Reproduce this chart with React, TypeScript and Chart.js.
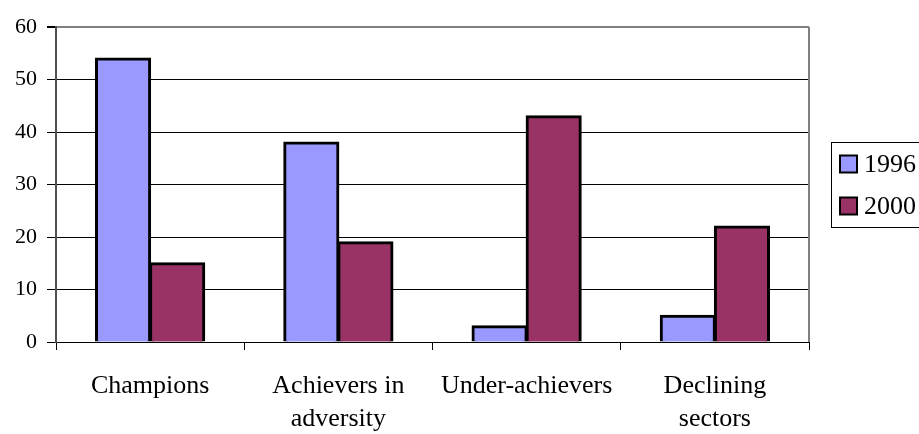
import React, { useEffect, useRef } from "react";
import { Chart, registerables } from "chart.js";

Chart.register(...registerables);

const categories: (string | string[])[] = [
  "Champions",
  ["Achievers in", "adversity"],
  "Under-achievers",
  ["Declining", "sectors"],
];
const seriesNames = ["1996", "2000"];
const values1996 = [54, 38, 3, 5];
const values2000 = [15, 19, 43, 22];
const colors = ["#9999FF", "#993366"];
const yTicks = [0, 10, 20, 30, 40, 50, 60];

const FONT = "'Liberation Serif', 'Times New Roman', serif";

const frameAndLegend = {
  id: "frameAndLegend",
  afterDraw(chart: any) {
    const ctx = chart.ctx;
    const a = chart.chartArea;
    ctx.save();
    // right border of plot
    ctx.strokeStyle = "#808080";
    ctx.lineWidth = 2;
    ctx.beginPath();
    ctx.moveTo(a.right, a.top);
    ctx.lineTo(a.right, a.bottom);
    ctx.stroke();

    // legend
    const left = a.right + 22;
    const cy = (a.top + a.bottom) / 2;
    const top = cy - 42.5;
    const h = 85;
    ctx.strokeStyle = "#000";
    ctx.lineWidth = 1;
    ctx.strokeRect(left + 0.5, top + 0.5, chart.width - left + 10, h);
    const ds = chart.data.datasets;
    const rows = [cy - 20, cy + 22];
    ds.forEach((d: any, i: number) => {
      const y = rows[i];
      ctx.fillStyle = d.backgroundColor;
      ctx.fillRect(left + 9, y - 9, 17, 17);
      ctx.lineWidth = 2;
      ctx.strokeStyle = "#000";
      ctx.strokeRect(left + 9, y - 9, 17, 17);
      ctx.fillStyle = "#000";
      ctx.font = `26px ${FONT}`;
      ctx.textAlign = "left";
      ctx.textBaseline = "middle";
      ctx.fillText(d.label, left + 33, y + 1);
    });
    ctx.restore();
  },
};

export default function App() {
  const ref = useRef<HTMLCanvasElement | null>(null);
  useEffect(() => {
    document.body.style.margin = "0";
    const canvas = ref.current;
    if (!canvas) return;
    const chart = new Chart(canvas, {
      type: "bar",
      data: {
        labels: categories,
        datasets: [
          {
            label: seriesNames[0],
            data: values1996,
            backgroundColor: colors[0],
            borderColor: "#000",
            borderWidth: 3,
            inflateAmount: 1,
            categoryPercentage: 0.575,
            barPercentage: 1,
          },
          {
            label: seriesNames[1],
            data: values2000,
            backgroundColor: colors[1],
            borderColor: "#000",
            borderWidth: 3,
            inflateAmount: 1,
            categoryPercentage: 0.575,
            barPercentage: 1,
          },
        ],
      },
      options: {
        animation: false,
        responsive: false,
        devicePixelRatio: 1,
        layout: { padding: { top: 27, right: 110, left: 0, bottom: 0 } },
        plugins: {
          legend: { display: false },
          tooltip: { enabled: false },
          title: { display: false },
        },
        scales: {
          x: {
            afterFit: (s: any) => {
              s.height = 92;
            },
            grid: {
              offset: true,
              drawOnChartArea: false,
              drawTicks: true,
              tickLength: 8,
              tickColor: "#000",
              tickWidth: 1,
            },
            border: { display: true, color: "#000", width: 1 },
            ticks: {
              color: "#000",
              font: { family: FONT, size: 26, lineHeight: 1.27 },
              padding: 20,
              maxRotation: 0,
              autoSkip: false,
            },
          },
          y: {
            min: 0,
            max: 60,
            afterFit: (s: any) => {
              s.width = 56;
            },
            afterBuildTicks: (s: any) => {
              s.ticks = yTicks.map((v) => ({ value: v }));
            },
            grid: {
              color: (c: any) =>
                c.tick && c.tick.value === 60 ? "#808080" : "#000",
              lineWidth: (c: any) => (c.tick && c.tick.value === 60 ? 2 : 1),
              tickColor: "#000",
              tickLength: 9,
              drawTicks: true,
            },
            border: { display: true, color: "#505050", width: 2 },
            ticks: {
              color: "#000",
              font: { family: FONT, size: 22 },
              padding: 10,
            },
          },
        },
      },
      plugins: [frameAndLegend],
    });
    return () => chart.destroy();
  }, []);
  return (
    <div style={{ width: 919, height: 434, background: "#fff" }}>
      <canvas ref={ref} width={919} height={434} style={{ display: "block" }} />
    </div>
  );
}
